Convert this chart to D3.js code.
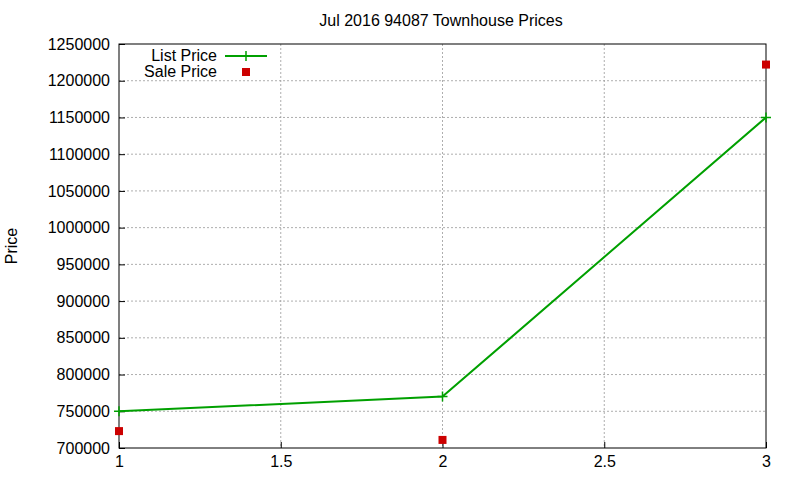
<!DOCTYPE html><html><head><script src="https://d3js.org/d3.v7.min.js"></script>
<style>body{margin:0;background:#fff}text{font-family:"Liberation Sans",Arial,sans-serif}</style></head><body>
<svg id="c" width="800" height="480"></svg>
<script>
const xs=[1,2,3];
const listPrice=[750000,770000,1150000];
const salePrice=[723000,711000,1222000];
const xTicks=[1,1.5,2,2.5,3];
const yTicks=d3.range(700000,1250001,50000);
const svg=d3.select("#c");
const L=119,R=766,T=44,B=448;
const x=d3.scaleLinear().domain([1,3]).range([L,R]);
const y=d3.scaleLinear().domain([700000,1250000]).range([B,T]);
const g=svg.append("g");
g.selectAll(".gx").data(xTicks.slice(1,-1)).enter().append("line").attr("x1",d=>x(d)).attr("x2",d=>x(d)).attr("y1",T).attr("y2",B).attr("stroke","#999").attr("stroke-dasharray","2,2").attr("stroke-width",0.8);
g.selectAll(".gy").data(yTicks.slice(1,-1)).enter().append("line").attr("x1",L).attr("x2",R).attr("y1",d=>y(d)).attr("y2",d=>y(d)).attr("stroke","#999").attr("stroke-dasharray","2,2").attr("stroke-width",0.8);
g.append("rect").attr("x",L).attr("y",T).attr("width",R-L).attr("height",B-T).attr("fill","none").attr("stroke","#000");
const ax=svg.append("g").attr("transform",`translate(0,${B})`).call(d3.axisBottom(x).tickValues(xTicks).tickFormat(d3.format("")).tickSize(-6).tickPadding(6));
const ay=svg.append("g").attr("transform",`translate(${L},0)`).call(d3.axisLeft(y).tickValues(yTicks).tickFormat(d3.format("d")).tickSize(-6).tickPadding(9));
[ax,ay].forEach(a=>{a.select(".domain").remove();a.selectAll("text").attr("font-size",16).attr("fill","#000").style("font-family","Liberation Sans, Arial");});
ax.selectAll("text").attr("dy","0.8em");
svg.append("text").attr("x",441).attr("y",26).attr("text-anchor","middle").attr("font-size",16).text("Jul 2016 94087 Townhouse Prices");
svg.append("text").attr("transform","translate(17,246) rotate(-90)").attr("text-anchor","middle").attr("font-size",16).text("Price");
const line=d3.line().x((d,i)=>x(xs[i])).y(d=>y(d));
svg.append("path").datum(listPrice).attr("d",line).attr("fill","none").attr("stroke","#00a000").attr("stroke-width",2);
const plus=(sel,cx,cy)=>{sel.append("path").attr("d",`M${cx-5},${cy}H${cx+5}M${cx},${cy-5}V${cy+5}`).attr("stroke","#00a000").attr("stroke-width",1.5);};
listPrice.forEach((d,i)=>plus(svg,x(xs[i]),y(d)));
svg.selectAll(".s").data(salePrice).enter().append("rect").attr("x",(d,i)=>x(xs[i])-4).attr("y",d=>y(d)-4).attr("width",8).attr("height",8).attr("fill","#cc0000");
svg.append("text").attr("x",217).attr("y",61).attr("text-anchor","end").attr("font-size",16).text("List Price");
svg.append("line").attr("x1",225).attr("x2",267).attr("y1",56).attr("y2",56).attr("stroke","#00a000").attr("stroke-width",2);
plus(svg,246,56);
svg.append("text").attr("x",217).attr("y",77).attr("text-anchor","end").attr("font-size",16).text("Sale Price");
svg.append("rect").attr("x",242).attr("y",68).attr("width",8).attr("height",8).attr("fill","#cc0000");
</script></body></html>
